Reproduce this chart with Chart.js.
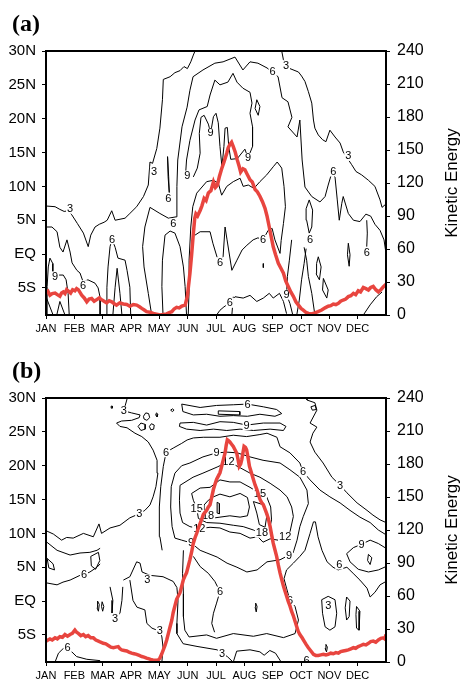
<!DOCTYPE html>
<html>
<head>
<meta charset="utf-8">
<script src="https://cdn.jsdelivr.net/npm/chart.js@4.4.1/dist/chart.umd.min.js"></script>
<style>
    body { margin: 0; background: #fff; }
    #page { position: relative; width: 463px; height: 682px; }
    .panel { position: absolute; left: 0; width: 463px; height: 341px; }
    .tag {
        position: absolute; left: 12px;
        font: bold 24px "Liberation Serif", "DejaVu Serif", serif;
        color: #000;
    }
</style>
</head>
<body>
<div id="page">
    <div class="panel" style="top:0"><canvas id="chartA" width="463" height="341"></canvas></div>
    <div class="panel" style="top:341px"><canvas id="chartB" width="463" height="341"></canvas></div>
    <div class="tag" style="top:10px">(a)</div>
    <div class="tag" style="top:357px">(b)</div>
</div>
<script>

/* =========================
   AXES
========================= */

const monthNames = ["JAN", "FEB", "MAR", "APR", "MAY", "JUN", "JUL", "AUG", "SEP", "OCT", "NOV", "DEC"];
const latTicks = [-5, 0, 5, 10, 15, 20, 25, 30];
const latTickLabels = ["5S", "EQ", "5N", "10N", "15N", "20N", "25N", "30N"];
const keTicks = [0, 30, 60, 90, 120, 150, 180, 210, 240];

/* =========================
   KINETIC ENERGY (month, value)
========================= */

const keMonthA = [0, .07, .14, .22, .32, .4, .49, .55, .61, .67, .73, .8, .87, .94, 1.02, 1.08, 1.14, 1.2, 1.26, 1.35, 1.44, 1.52, 1.61, 1.7, 1.79, 1.88, 1.96, 2.05, 2.14, 2.23, 2.32, 2.4, 2.49, 2.6, 2.73, 2.85, 2.96, 3.08, 3.2, 3.3, 3.38, 3.47, 3.55, 3.67, 3.79, 3.9, 4.02, 4.14, 4.26, 4.35, 4.44, 4.52, 4.61, 4.7, 4.79, 4.85, 4.91,
    4.99, 5.08, 5.14, 5.2, 5.25, 5.29, 5.35, 5.44, 5.5, 5.58, 5.65, 5.73, 5.82, 5.91, 5.98, 6.05, 6.12, 6.2, 6.28, 6.38, 6.43, 6.49, 6.55, 6.61, 6.68, 6.75, 6.82, 6.87, 6.95, 7.02, 7.1, 7.2, 7.28, 7.38, 7.46, 7.55, 7.64, 7.73, 7.8, 7.88, 7.95, 8.02, 8.1, 8.2, 8.3, 8.38, 8.46, 8.55, 8.64, 8.73, 8.82, 8.91, 9.0, 9.08, 9.17, 9.26, 9.37,
    9.49, 9.6, 9.73, 9.85, 9.96, 10.05, 10.14, 10.23, 10.32, 10.4, 10.49, 10.58, 10.67, 10.76, 10.85, 10.93, 11.02, 11.1, 11.2, 11.29, 11.38, 11.46, 11.55, 11.64, 11.73, 11.82, 11.91, 12];
const keA = [20, 21.5, 18, 19.5, 20, 18.5, 17, 20, 21, 19.5, 23, 21.5, 20, 23, 22, 24, 23, 20.5, 18, 15.5, 12, 14.5, 15, 12.5, 14, 15.5, 14, 12.5, 11, 13, 12, 10.5, 9, 11, 10, 9.5, 8, 9.5, 9, 7.5, 6, 4.5, 3, 2.5, 1.5, 0.8, 0, 0.5, 1, 2.2, 3, 5.5, 7, 6.5, 8, 8.5, 9,
    17, 38, 55, 74, 88, 92, 90, 95, 99, 106, 104, 111, 113, 121, 116, 118, 126, 133, 139, 147, 152, 155, 157, 153, 148, 141, 135, 130, 133, 132, 128, 123, 121, 114, 112, 108, 103, 97, 90, 80, 71, 62, 55, 47, 42, 38, 31, 26, 21, 17, 12, 9, 6, 4.5, 2.5, 1.5, 1,
    2, 3, 4.5, 6.5, 8, 8.5, 10, 9.5, 10.6, 12.5, 13.6, 14.5, 16.7, 17.5, 19.7, 18.5, 22, 21, 25, 24, 22.7, 25, 26, 23, 21, 23, 25.8, 28];

const keMonthB = [0, .07, .14, .22, .32, .4, .49, .58, .67, .76, .85, .93, 1.02, 1.08, 1.14, 1.23, 1.32, 1.4, 1.49, 1.58, 1.67, 1.76, 1.85, 1.93, 2.02, 2.11, 2.2, 2.29, 2.38, 2.46, 2.55, 2.61, 2.67, 2.76, 2.85, 2.93, 3.02, 3.11, 3.2, 3.29, 3.38, 3.46, 3.55, 3.64, 3.73, 3.82, 3.91, 3.97,
    4.02, 4.08, 4.14, 4.2, 4.26, 4.32, 4.38, 4.44, 4.49, 4.55, 4.61, 4.67, 4.73, 4.79, 4.85, 4.9, 4.96, 5.02, 5.08, 5.14, 5.2, 5.26, 5.32, 5.38, 5.44, 5.5, 5.55, 5.61, 5.67, 5.73, 5.79, 5.85, 5.91, 5.97, 6.02, 6.08, 6.14, 6.2, 6.26, 6.32, 6.36, 6.4, 6.45, 6.49, 6.55, 6.61, 6.67, 6.73, 6.78, 6.82, 6.87, 6.91, 6.95, 6.99, 7.04, 7.08, 7.13, 7.18,
    7.25, 7.32, 7.38, 7.44, 7.5, 7.55, 7.61, 7.67, 7.73, 7.79, 7.85, 7.91, 7.96, 8.02, 8.08, 8.14, 8.2, 8.26, 8.32, 8.38, 8.44, 8.49, 8.55, 8.61, 8.67, 8.73, 8.79, 8.85, 8.9, 8.96, 9.04, 9.11, 9.18, 9.26, 9.35, 9.44, 9.52,
    9.61, 9.7, 9.79, 9.88, 9.96, 10.05, 10.14, 10.23, 10.32, 10.4, 10.49, 10.58, 10.67, 10.76, 10.85, 10.93, 11.02, 11.11, 11.2, 11.29, 11.38, 11.46, 11.55, 11.64, 11.73, 11.82, 11.91, 11.96, 12];
const keB = [19, 20, 21, 20, 22, 21, 23, 22.5, 25, 23.5, 25, 26, 29, 27, 26, 24, 25, 23, 24, 22, 22, 20, 19, 18, 17, 16.5, 15, 13.5, 13, 13.5, 14, 12, 11, 10.5, 10, 9, 8, 7.5, 7, 6, 5, 4.5, 3.6, 2.8, 2, 1.5, 1.5, 2,
    3.6, 7, 11, 15, 20, 26, 32, 38, 45, 51, 57, 60, 63, 69, 75, 78, 81, 87, 93, 100, 108, 113, 117, 122, 126, 130, 134, 136, 138, 141, 143, 150, 157, 162, 166, 169, 172, 178, 184, 190, 197, 202, 201, 200, 198, 196, 193, 190, 184, 178, 180, 184, 190, 196, 195, 193, 186, 178,
    172, 166, 161, 157, 152, 148, 145, 143, 139, 135, 130, 123, 116, 108, 102, 96, 88, 81, 75, 69, 64, 60, 55, 51, 46, 42, 37, 32, 28, 25, 22, 19, 16, 13, 10, 7, 6,
    6, 6.5, 7, 6.5, 7, 8, 7.5, 8.5, 8, 9.5, 10, 10.5, 11, 12, 13, 12.5, 14, 15, 16, 15.5, 17, 18.5, 19, 18, 20, 21.5, 22, 21, 25];

/* =========================
   CONTOURS (month, latitude)
========================= */

const contoursA = [
    [[0, 7.1], [.32, 7.0], [.49, 6.6], [.64, 6.3], [.79, 6.4], [.91, 5.8], [1.11, 4.5], [1.32, 3.1], [1.49, 1.1], [1.58, 2.8], [1.73, 4.0], [1.88, 4.4], [2.05, 4.7], [2.16, 5.0], [2.32, 6.4], [2.44, 5.0], [2.79, 5.3], [2.96, 6.0], [3.2, 7.0], [3.44, 8.5], [3.61, 10.2], [3.67, 13.6], [3.76, 13.4], [3.91, 15.6], [4.02, 18.6], [4.11, 22.8], [4.14, 25.8], [4.38, 26.2], [4.55, 26.8], [4.73, 27.1], [4.87, 27.7], [4.99, 27.4], [5.11, 28.4], [5.2, 29.4], [5.26, 30]],
    [[8.32, 30], [8.38, 28.7], [8.61, 27.4], [8.91, 26.9], [9.02, 26.3], [9.14, 25.5], [9.26, 24.0], [9.38, 22.3], [9.44, 19.8], [9.49, 18.6], [9.61, 17.6], [9.76, 16.9], [9.88, 16.6], [10.02, 18.3], [10.2, 17.3], [10.38, 16.4], [10.49, 15.1], [10.79, 13.2], [10.94, 12.2], [11.14, 11.7], [11.38, 10.9], [11.61, 10.0], [11.79, 8.0], [11.86, 6.9], [12, 7.4]],
    [[3.73, -9], [3.61, -5.8], [3.46, -1.9], [3.41, 1.1], [3.49, 4.0], [3.67, 6.9], [4.02, 6.0], [4.32, 5.3], [4.59, 5.5], [4.62, 10.0], [4.65, 13.9], [4.8, 18.8], [4.98, 21.7], [5.08, 24.2], [5.19, 26.2], [5.54, 27.2], [5.96, 28.2], [6.25, 28.4], [6.67, 29.1], [6.95, 27.2], [7.2, 28.4], [7.48, 28.2], [7.8, 27.5], [8.19, 26.2], [8.33, 23.1], [8.54, 22.5], [8.68, 20.2], [8.54, 18.8], [8.86, 17.3], [8.96, 19.8], [9.04, 13.9], [9.14, 9.9], [9.38, 8.5], [9.67, 7.7], [9.85, 8.5], [9.96, 10.2], [10.08, 11.9], [10.2, 11.4], [10.28, 8.0], [10.35, 5.0], [10.44, 7.5], [10.49, 8.5], [10.67, 6.0], [10.85, 5.0], [11.08, 4.8], [11.29, 5.9], [11.46, 5.6], [11.61, 4.4], [11.79, 3.5], [11.93, 2.1], [12, 0.1]],
    [[4.92, 11.4], [4.96, 13.9], [5.08, 16.8], [5.26, 19.8], [5.4, 21.3], [5.69, 21.8], [5.79, 23.5], [5.96, 25.7], [6.14, 25.0], [6.42, 25.4], [6.6, 26.7], [6.74, 25.4], [6.95, 24.5], [7.2, 23.9], [7.27, 22.3], [7.2, 20.8], [7.29, 18.8], [7.29, 15.9], [7.13, 14.2], [7.02, 15.5], [6.75, 14.1], [6.52, 14.0], [6.45, 15.9], [6.4, 18.7], [6.32, 18.6], [6.28, 15.9], [6.21, 12.9], [6.14, 15.9], [6.08, 19.4], [6.0, 20.8], [5.91, 20.3], [5.81, 17.9], [5.73, 19.2], [5.58, 20.5], [5.47, 20.2], [5.41, 17.8], [5.44, 14.9], [5.34, 12.7], [5.2, 11.4]],
    [[7.44, 22.8], [7.55, 21.8], [7.49, 20.5], [7.38, 21.5], [7.44, 22.8]],
    [[4.29, 14.4], [4.33, 11.4], [4.35, 9.1], [4.31, 11.4], [4.29, 14.4]],
    [[0, 4.0], [.21, 4.0], [.39, 3.3], [.49, 1.0], [.6, 0.3], [.74, 2.1], [.85, 0.3], [.92, -1.3], [1.09, -2.4], [1.2, -2.8], [1.31, -4.1], [1.48, -3.8], [1.73, -4.3], [1.84, -5.0], [1.91, -6.4], [1.91, -9]],
    [[.06, -9], [.04, -4.8], [.08, -1.9], [.14, -0.6], [.24, -1.4], [.24, -2.6], [.38, -3.1], [.61, -3.1], [.71, -3.8], [.78, -5.8], [.82, -9]],
    [[0, -6.3], [.25, -9]],
    [[.38, -9], [.49, -7.0], [.67, -9]],
    [[2.12, -9], [2.15, -4.9], [2.19, -1.9], [2.26, 1.1], [2.33, 2.2], [2.44, 1.0], [2.54, -0.6], [2.79, -0.9], [2.86, -2.4], [2.96, -4.9], [2.99, -9]],
    [[2.36, -9], [2.44, -4.9], [2.51, -2.1], [2.61, -5.8], [2.68, -9]],
    [[4.13, -9], [4.09, -4.8], [4.11, -0.9], [4.2, 2.8], [4.38, 3.4], [4.55, 3.1], [4.73, 1.1], [4.85, -1.9], [4.91, -4.8], [4.96, -9]],
    [[5.02, -9], [5.05, -5.3], [5.05, -0.9], [5.11, 4.0], [5.18, 7.0], [5.32, 9.0], [5.67, 10.7], [5.91, 10.9], [6.08, 10.5], [6.2, 8.7], [6.38, 10.0], [6.61, 10.7], [6.85, 11.2], [6.96, 10.0], [7.14, 10.2], [7.34, 9.7], [7.55, 10.7], [7.79, 11.7], [8.02, 12.9], [8.16, 13.6], [8.32, 12.7], [8.4, 10.0], [8.45, 7.0], [8.38, 4.5], [8.3, 2.0], [8.26, 0.1], [8.08, 2.1], [7.98, 3.8], [7.84, 3.5], [7.66, 2.1], [7.48, 2.4], [7.31, 2.1], [7.09, 1.3], [6.92, 0.6], [6.74, -0.9], [6.56, -2.4], [6.39, 2.1], [6.32, 4.0], [6.25, -0.4], [6.14, -1.2], [6.07, -0.9], [5.89, 1.6], [5.79, 3.3], [5.44, 3.3], [5.26, 2.8]],
    [[6.02, -9], [6.14, -8.3], [6.28, -7.8], [6.49, -7.2], [6.67, -6.3], [6.96, -6.5], [7.2, -6.1], [7.44, -7.0], [7.67, -6.5], [7.88, -5.8], [8.02, -6.5], [8.24, -5.8], [8.38, -7.0], [8.49, -8.8]],
    [[6.61, -6.3], [6.56, -9]],
    [[8.67, 2.1], [8.59, -0.9], [8.52, -3.3], [8.49, -6.0], [8.61, -7.3], [8.71, -9]],
    [[9.29, 8.0], [9.41, 6.5], [9.38, 4.0], [9.29, 3.1], [9.2, 5.0], [9.18, 6.7], [9.29, 8.0]],
    [[9.11, 1.0], [9.2, -0.9], [9.26, -3.3], [9.38, -5.8], [9.49, -9]],
    [[9.18, 0.8], [9.11, -1.4], [9.02, -3.8], [8.94, -6.8], [8.85, -9]],
    [[9.61, -0.4], [9.71, -1.9], [9.65, -3.8], [9.53, -2.9], [9.55, -1.4], [9.61, -0.4]],
    [[9.79, -3.6], [9.96, -5.3], [9.91, -6.5], [9.76, -5.3], [9.79, -3.6]],
    [[10.67, 1.6], [10.73, -0.1], [10.7, -1.8], [10.64, -0.1], [10.67, 1.6]],
    [[11.32, 5.0], [11.34, 3.1], [11.32, 1.1]],
    [[11.2, -9], [11.44, -7.5], [11.67, -6.3], [11.86, -5.6]],
    [[7.67, -1.4], [7.67, -2.0]]
];

const contourLabelsA = [
    [.85, 6.7, "3"], [3.81, 12.2, "3"], [8.47, 27.9, "3"], [10.67, 14.5, "3"],
    [4.49, 4.5, "6"], [8.0, 27.0, "6"], [10.14, 12.2, "6"], [4.32, 8.2, "6"],
    [4.99, 11.6, "9"], [5.81, 17.9, "9"], [7.13, 14.2, "9"],
    [1.31, -4.6, "6"], [.32, -3.3, "9"], [2.33, 2.2, "6"], [6.14, -1.2, "6"],
    [7.66, 2.1, "6"], [6.49, -7.2, "6"], [8.49, -6.0, "9"], [9.32, 2.2, "6"], [11.32, 0.3, "6"]
];

const contoursB = [
    [[0, 10.4], [.26, 9.9], [.55, 9.0], [.73, 9.4], [.96, 9.3], [1.32, 10.0], [1.67, 9.5], [1.87, 11.4], [1.96, 10.0], [2.26, 10.8], [2.61, 11.2], [2.96, 12.3], [3.29, 12.9], [3.49, 13.4], [3.67, 14.2], [3.78, 15.4], [3.88, 16.9], [3.95, 18.9], [3.92, 20.8], [3.78, 22.3], [3.61, 23.5], [3.38, 24.3], [3.14, 24.8], [2.86, 25.6], [2.61, 25.8], [2.49, 26.3], [2.67, 26.6], [3.02, 26.7], [3.29, 27.1], [3.32, 27.5], [3.02, 27.8], [2.75, 28.1], [2.79, 28.8], [2.87, 30]],
    [[9.21, 30], [9.21, 29.7], [9.49, 29.3], [9.56, 28.2], [9.32, 26.3], [9.56, 25.7], [9.42, 24.8], [9.32, 23.5], [9.49, 22.0], [9.78, 20.4], [10.09, 18.3], [10.38, 17.1], [10.62, 16.0], [10.98, 14.5], [11.33, 13.4], [11.54, 12.7], [11.79, 12.0], [12, 11.6]],
    [[9.35, 28.7], [9.5, 28.9], [9.54, 28.3], [9.4, 28.2], [9.35, 28.7]],
    [[4.79, 29.1], [5.44, 28.6], [6.02, 28.9], [6.61, 29.0], [7.11, 29.1], [7.67, 28.7], [8.14, 28.3], [8.32, 27.7], [8.08, 27.3], [7.55, 27.6], [7.11, 27.3], [6.61, 27.4], [6.14, 27.3], [5.67, 27.6], [5.2, 27.5], [4.83, 28.0], [4.79, 29.1]],
    [[6.08, 28.1], [6.84, 28.0], [6.84, 27.5], [6.08, 27.6], [6.08, 28.1]],
    [[4.73, 26.3], [5.2, 26.4], [5.67, 26.0], [6.14, 26.5], [6.61, 26.4], [7.08, 26.0], [7.67, 26.3], [8.26, 26.3], [8.47, 25.8], [8.38, 25.2], [7.91, 25.4], [7.32, 25.2], [6.85, 25.4], [6.38, 25.2], [5.91, 25.4], [5.44, 25.2], [4.96, 25.4], [4.71, 25.8], [4.73, 26.3]],
    [[4.1, 7.5], [4.02, 9.5], [4.0, 11.0], [4.0, 13.9], [4.05, 16.9], [4.14, 19.9], [4.24, 22.0], [4.49, 22.6], [4.79, 23.3], [4.98, 23.8], [5.2, 24.1], [5.55, 24.2], [6.14, 24.2], [6.61, 24.5], [7.08, 24.3], [7.55, 24.6], [7.8, 24.8], [8.15, 24.2], [8.26, 22.8], [8.61, 21.9], [8.96, 20.4], [9.07, 19.1], [9.32, 17.9], [9.67, 16.4], [10.02, 15.4], [10.38, 14.5], [10.73, 13.4], [11.08, 12.4], [11.44, 11.6], [11.73, 10.5], [12, 9.8]],
    [[4.85, 7.5], [4.82, 4.1], [4.85, 1.1], [4.85, -2.3], [4.9, -4.3], [5.05, -5.3], [5.67, -5.0], [6.02, -5.5], [6.61, -4.8], [7.32, -5.2], [7.79, -4.8], [8.38, -5.4], [8.79, -4.8], [8.91, -2.8], [8.79, -0.8], [8.61, 0.1], [8.49, 1.9], [8.4, 3.3], [8.49, 4.6], [8.73, 5.6], [8.96, 6.6], [9.14, 7.5], [9.32, 10.0], [9.44, 11.7], [9.51, 11.7], [9.6, 9.5], [9.74, 7.5], [9.92, 5.8], [10.13, 5.0], [10.31, 4.6], [10.62, 5.0], [10.84, 4.1], [11.08, 3.1], [11.33, 1.9], [11.44, 0.6], [11.61, 1.3], [11.79, 2.4], [12, 2.9]],
    [[5.2, 6.6], [5.44, 5.1], [5.73, 4.1], [5.96, 2.9], [6.14, 1.4], [6.02, -0.3], [5.91, -1.8], [5.85, -3.3], [5.95, -4.6]],
    [[6.02, 21.9], [6.39, 22.0], [6.74, 21.9], [7.2, 21.3], [7.66, 20.8], [8.26, 20.4], [8.61, 19.4], [8.96, 18.3], [9.21, 16.4], [9.26, 14.4], [9.08, 12.5], [8.96, 11.0], [8.86, 9.0], [8.72, 7.1], [8.58, 6.8], [8.26, 6.1], [7.8, 5.8], [7.45, 4.6], [7.09, 4.3], [6.74, 5.0], [6.39, 5.6], [6.04, 6.5], [5.68, 7.1], [5.44, 7.5], [5.12, 8.6], [4.79, 9.0], [4.55, 9.3], [4.45, 11.0], [4.4, 13.9], [4.42, 16.9], [4.55, 18.9], [4.79, 20.0], [5.08, 20.4], [5.54, 21.3], [6.02, 21.9]],
    [[4.73, 17.1], [5.19, 18.3], [5.54, 18.9], [6.04, 19.8], [6.44, 20.6], [6.85, 19.7], [7.2, 18.9], [7.55, 18.3], [7.91, 17.4], [8.26, 16.4], [8.51, 15.4], [8.67, 13.9], [8.73, 12.5], [8.61, 10.2], [8.44, 9.5], [8.19, 9.0], [7.91, 9.2], [7.66, 8.7], [7.48, 9.5], [7.2, 9.3], [6.85, 10.0], [6.49, 10.2], [6.14, 10.8], [5.79, 10.9], [5.41, 10.7], [5.08, 11.0], [4.82, 11.6], [4.73, 13.0], [4.71, 14.9], [4.73, 17.1]],
    [[5.14, 15.9], [5.44, 16.7], [5.79, 16.8], [6.14, 17.9], [6.49, 17.6], [6.85, 17.6], [7.2, 16.8], [7.55, 15.9], [7.79, 15.4], [7.93, 13.9], [7.96, 12.0], [7.88, 10.5], [7.67, 9.8], [7.32, 10.5], [6.96, 11.0], [6.61, 11.2], [6.14, 11.5], [5.67, 11.6], [5.38, 12.2], [5.32, 13.7], [5.2, 14.9], [5.14, 15.9]],
    [[5.58, 14.2], [5.73, 14.9], [5.91, 15.4], [6.14, 15.8], [6.49, 15.4], [6.85, 15.9], [7.11, 15.3], [7.18, 13.9], [7.11, 12.6], [6.85, 12.4], [6.49, 12.6], [6.14, 12.4], [5.79, 12.2], [5.6, 12.9], [5.58, 14.2]],
    [[6.04, 14.6], [6.12, 14.4], [6.12, 12.9], [6.04, 13.0], [6.04, 14.6]],
    [[7.32, 14.7], [7.44, 13.0], [7.53, 11.3], [7.73, 10.9], [7.79, 12.5], [7.69, 14.2], [7.32, 14.7]],
    [[12, 5.1], [11.73, 4.6], [11.38, 4.3], [11.02, 4.7], [10.73, 5.8], [10.61, 7.0], [10.85, 7.9], [11.14, 8.4], [11.44, 9.0], [11.73, 8.5], [12, 7.8]],
    [[11.38, 6.9], [11.5, 6.4], [11.44, 5.4], [11.35, 6.0], [11.38, 6.9]],
    [[0, 8.8], [.39, 7.5], [.85, 6.8], [1.2, 7.1], [1.55, 7.2], [1.8, 7.5], [1.91, 7.8]],
    [[1.58, 6.6], [1.85, 7.2], [1.9, 6.0], [1.75, 4.7], [1.6, 5.2], [1.58, 6.6]],
    [[0, 2.7], [.39, 2.4], [.6, 2.8], [.85, 3.1], [1.2, 3.8], [1.34, 3.9], [1.55, 4.3], [1.8, 5.0], [1.91, 5.5]],
    [[.04, 6.3], [.25, 5.5], [.3, 4.6], [.1, 4.9], [.04, 6.3]],
    [[.32, -9], [.44, -7.7], [.61, -7.0], [.91, -7.5], [1.08, -8.2], [1.44, -8.6], [1.91, -8.8]],
    [[2.26, 2.1], [2.36, 0.1], [2.33, -1.8], [2.44, -2.5], [2.61, -1.8], [2.68, 0.1], [2.71, 2.1]],
    [[2.73, 3.1], [2.96, 3.6], [3.2, 5.8], [3.32, 5.6], [3.39, 4.3], [3.67, 3.8], [4.13, 3.6], [4.49, 2.9], [4.62, 2.0], [4.66, 0.1], [4.62, -3.3], [4.62, -4.8], [4.84, -6.3], [5.33, -6.7], [6.04, -7.2], [6.21, -7.7], [6.4, -8.2], [6.6, -9]],
    [[2.96, 3.1], [3.07, 0.1], [3.21, -0.9], [3.49, -1.3], [3.56, -3.3], [3.74, -4.0], [3.92, -4.3], [4.02, -4.3], [4.09, -5.3], [4.13, -6.8], [4.09, -9]],
    [[6.61, -9], [6.73, -7.4], [7.2, -7.2], [7.55, -7.5], [7.7, -8.0], [7.9, -7.3], [8.1, -7.7], [8.3, -9]],
    [[9.73, 0.2], [9.96, 0.7], [10.2, 0.2], [10.26, -1.8], [10.2, -3.8], [10.02, -4.3], [9.85, -3.8], [9.76, -1.8], [9.73, 0.2]],
    [[10.61, 0.6], [10.73, 0.0], [10.7, -2.3], [10.61, -2.8], [10.56, -1.0], [10.61, 0.6]],
    [[10.96, -0.8], [11.08, -1.5], [11.05, -4.3], [10.96, -4.0], [10.94, -2.0], [10.96, -0.8]],
    [[9.88, -6.4], [9.93, -6.8], [9.9, -7.5], [9.85, -7.0], [9.88, -6.4]],
    [[7.4, -0.3], [7.45, -0.8], [7.42, -1.6], [7.38, -0.9], [7.4, -0.3]],
    [[1.82, 0.0], [1.88, -0.5], [1.85, -1.5], [1.8, -1.0], [1.82, 0.0]],
    [[1.98, -0.1], [2.04, -0.8], [2.0, -1.5], [1.96, -0.8], [1.98, -0.1]],
    [[3.44, 27.3], [3.52, 27.8], [3.62, 27.7], [3.66, 27.1], [3.56, 26.7], [3.46, 26.9], [3.44, 27.3]],
    [[3.87, 27.5], [3.9, 27.8], [3.95, 27.6], [3.92, 27.2], [3.87, 27.5]],
    [[3.25, 25.8], [3.35, 26.3], [3.5, 26.1], [3.5, 25.4], [3.35, 25.2], [3.25, 25.8]],
    [[3.65, 25.8], [3.72, 26.2], [3.82, 26.0], [3.8, 25.4], [3.7, 25.3], [3.65, 25.8]],
    [[4.4, 28.2], [4.46, 28.4], [4.52, 28.2], [4.46, 28.0], [4.4, 28.2]],
    [[2.3, 28.8], [2.34, 28.8], [2.34, 28.5], [2.3, 28.5], [2.3, 28.8]]
];

const contourLabelsB = [
    [3.29, 12.9, "3"], [2.75, 28.1, "3"], [10.38, 17.1, "3"], [7.11, 29.1, "6"], [7.08, 26.0, "9"],
    [4.24, 22.0, "6"], [9.07, 19.1, "6"], [10.35, 5.4, "6"], [6.14, 1.4, "6"], [8.61, 0.1, "6"],
    [6.02, 21.9, "9"], [5.12, 8.6, "9"], [8.58, 6.8, "9"], [6.44, 20.6, "12"], [5.41, 10.7, "12"],
    [8.44, 9.5, "12"], [7.55, 15.9, "15"], [5.32, 13.7, "15"], [5.72, 12.7, "18"], [7.62, 10.1, "18"],
    [11.14, 8.4, "9"], [1.34, 3.9, "6"], [2.44, -2.5, "3"], [3.58, 3.2, "3"], [4.02, -4.3, "3"],
    [6.21, -7.7, "3"], [.76, -6.9, "6"], [9.96, -0.6, "3"], [9.2, -8.7, "6"]
];

/* =========================
   FRAME, LABELS, TITLE
========================= */

const panelDecor = {

    id: "panelDecor",

    beforeDatasetDraw(chart, args) {

        // contour labels go on after the contours, under the red curve
        if (args.index !== 0) return;

        const ctx = chart.ctx;
        const x = chart.scales.x;
        const y = chart.scales.y;
        const area = chart.chartArea;

        ctx.save();
        ctx.beginPath();
        ctx.rect(area.left, area.top, area.right - area.left, area.bottom - area.top);
        ctx.clip();
        ctx.font = '11px "Liberation Sans", Arial, sans-serif';
        ctx.textAlign = "center";
        ctx.textBaseline = "middle";

        chart.options.plugins.panelDecor.labels.forEach(l => {
            const px = x.getPixelForValue(l[0]);
            const py = y.getPixelForValue(l[1]);
            const w = ctx.measureText(l[2]).width;
            ctx.fillStyle = "#fff";
            ctx.fillRect(px - w / 2 - 1, py - 5, w + 2, 10);
            ctx.fillStyle = "#000";
            ctx.fillText(l[2], px, py + 0.5);
        });

        ctx.restore();
    },

    afterDraw(chart) {

        const ctx = chart.ctx;
        const area = chart.chartArea;

        ctx.save();
        ctx.strokeStyle = "#000";
        ctx.lineWidth = 2;
        ctx.strokeRect(area.left, area.top, area.right - area.left, area.bottom - area.top);

        ctx.translate(452, (area.top + area.bottom) / 2);
        ctx.rotate(-Math.PI / 2);
        ctx.font = '17px "Liberation Sans", Arial, sans-serif';
        ctx.textAlign = "center";
        ctx.textBaseline = "middle";
        ctx.fillStyle = "#000";
        ctx.fillText("Kinetic Energy", 0, 0);
        ctx.restore();
    }
};

/* =========================
   BUILD ONE PANEL
========================= */

function renderPanel(canvasId, keMonths, keValues, contours, labels, topPad, bottomH) {

    const keLine = {
        data: keMonths.map((m, i) => ({ x: m, y: keValues[i] })),
        yAxisID: "y2",
        showLine: true,
        borderColor: "#e8453f",
        borderWidth: 3.5,
        pointRadius: 0,
        tension: 0
    };

    const contourLines = contours.map(line => ({
        data: line.map(p => ({ x: p[0], y: p[1] })),
        yAxisID: "y",
        showLine: true,
        borderColor: "#000",
        borderWidth: 1,
        pointRadius: 0,
        tension: 0
    }));

    const tickFont = { family: '"Liberation Sans", Arial, sans-serif' };

    return new Chart(document.getElementById(canvasId), {

        type: "scatter",

        data: { datasets: [keLine, ...contourLines] },

        options: {

            responsive: false,
            animation: false,
            events: [],

            layout: { padding: { top: topPad, left: 0, right: 0, bottom: 0 } },

            plugins: {
                legend: { display: false },
                tooltip: { enabled: false },
                panelDecor: { labels: labels }
            },

            scales: {

                x: {
                    type: "linear",
                    min: 0,
                    max: 12,
                    afterBuildTicks: s => { s.ticks = monthNames.map((_, i) => ({ value: i })); },
                    afterFit: s => { s.height = bottomH; },
                    ticks: {
                        callback: v => monthNames[v],
                        color: "#000",
                        font: { ...tickFont, size: 11 },
                        padding: 3,
                        maxRotation: 0,
                        autoSkip: false
                    },
                    grid: { drawOnChartArea: false, drawTicks: true, tickLength: 4, tickColor: "#000", tickWidth: 1 },
                    border: { display: false }
                },

                y: {
                    type: "linear",
                    position: "left",
                    min: -9,
                    max: 30,
                    afterBuildTicks: s => { s.ticks = latTicks.map(v => ({ value: v })); },
                    afterFit: s => { s.width = 46; },
                    ticks: {
                        callback: v => latTickLabels[latTicks.indexOf(v)],
                        color: "#000",
                        font: { ...tickFont, size: 15 },
                        padding: 6
                    },
                    grid: { drawOnChartArea: false, drawTicks: true, tickLength: 4, tickColor: "#000", tickWidth: 1 },
                    border: { display: false }
                },

                y2: {
                    type: "linear",
                    position: "right",
                    min: 0,
                    max: 240,
                    afterBuildTicks: s => { s.ticks = keTicks.map(v => ({ value: v })); },
                    afterFit: s => { s.width = 77; },
                    ticks: {
                        color: "#000",
                        font: { ...tickFont, size: 16 },
                        padding: 7
                    },
                    grid: { drawOnChartArea: false, drawTicks: true, tickLength: 4, tickColor: "#000", tickWidth: 1 },
                    border: { display: false }
                }
            }
        },

        plugins: [panelDecor]
    });
}

renderPanel("chartA", keMonthA, keA, contoursA, contourLabelsA, 51, 26);
renderPanel("chartB", keMonthB, keB, contoursB, contourLabelsB, 57, 20);

</script>
</body>
</html>
